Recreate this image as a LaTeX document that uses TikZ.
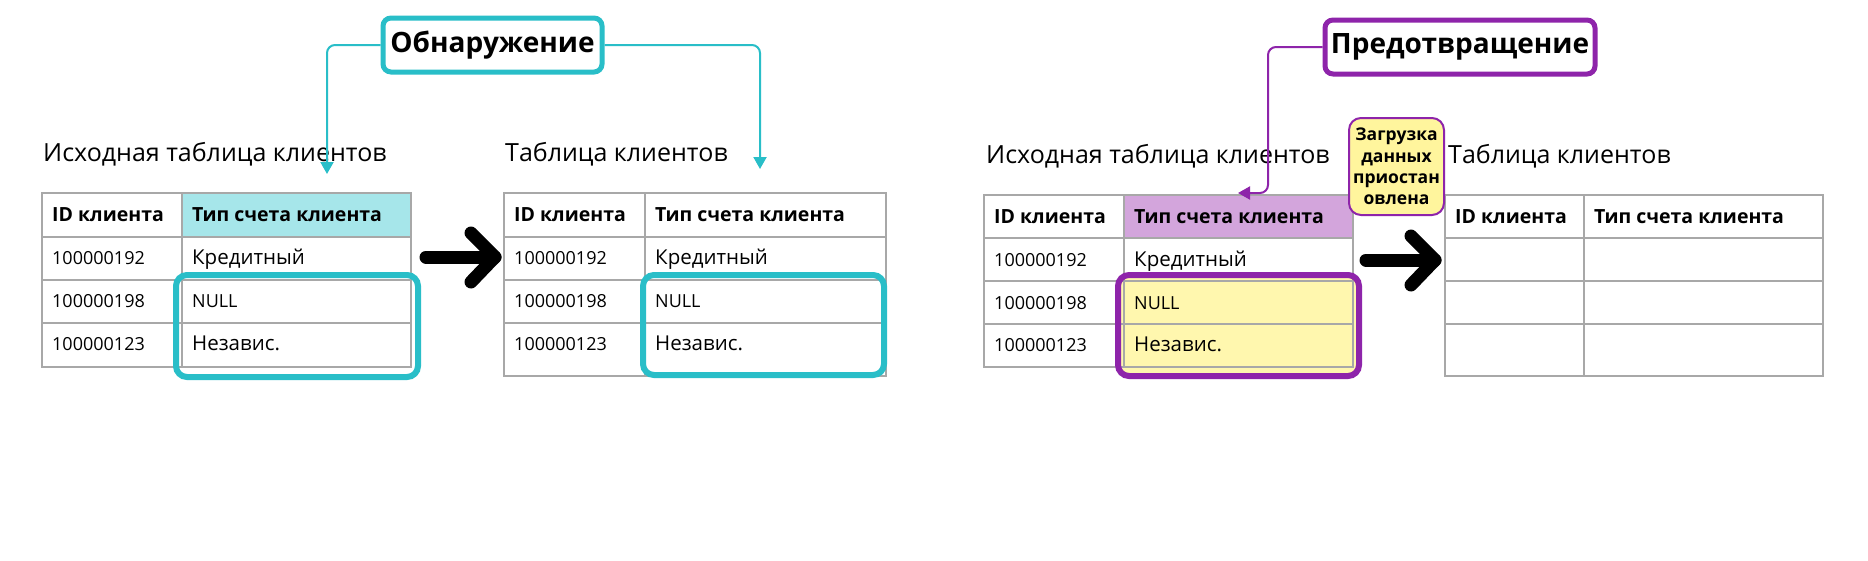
\documentclass[tikz,border=0pt]{standalone}
\usepackage{fontspec}
\setmainfont{Open Sans}
\usetikzlibrary{arrows.meta}
\definecolor{cy}{HTML}{29BEC8}
\definecolor{cyfill}{HTML}{A6E6EA}
\definecolor{pu}{HTML}{8E24AA}
\definecolor{pufill}{HTML}{D3A5DC}
\definecolor{yel}{HTML}{FFF7AE}
\definecolor{callfill}{HTML}{FFF59D}
\definecolor{gridc}{HTML}{A8A8A8}
\newcommand\fTitle{\fontsize{25}{30}\selectfont}
\newcommand\fHead{\fontsize{19.5}{23}\selectfont\bfseries}
\newcommand\fId{\fontsize{18}{22}\selectfont}
\newcommand\fWord{\fontsize{20.5}{24}\selectfont}
\newcommand\fBig{\fontsize{28}{34}\selectfont\bfseries}
\newcommand\fCall{\fontsize{17.5}{21.3}\selectfont\bfseries}
\tikzset{
  txt/.style={inner sep=0pt, anchor=base west},
  gridline/.style={draw=gridc, line width=1.6pt},
  hlcy/.style={draw=cy, line width=6pt, rounded corners=11pt},
  hlpu/.style={draw=pu, line width=6pt, rounded corners=11pt},
  bigbox/.style={rounded corners=8pt, line width=5pt, fill=white, inner sep=0pt},
  conn/.style={line width=2pt, rounded corners=8pt, -{Triangle[length=12pt,width=13pt]}},
  bigarrow/.style={line width=13pt, line cap=round, line join=round, draw=black},
}
\begin{document}
\begin{tikzpicture}[x=1pt,y=-1pt]
\useasboundingbox[fill=white] (0,0) rectangle (1868,560);

% ---------- Detection: source table ----------
\fill[cyfill] (182,193) rectangle (411,237);
\draw[gridline] (42,193) rectangle (411,367);
\draw[gridline] (182,193) -- (182,367);
\draw[gridline] (42,237) -- (411,237) (42,280) -- (411,280) (42,323) -- (411,323);
\node[txt] (ta) at (43,161) {\fTitle Исходная таблица клиентов};
\node[txt] (a00) at (52,221) {\fHead ID клиента};
\node[txt] (a01) at (192,221) {\fHead Тип счета клиента};
\node[txt] (a10) at (52,264) {\fId 100000192};
\node[txt] (a11) at (192,264) {\fWord Кредитный};
\node[txt] (a20) at (52,307) {\fId 100000198};
\node[txt] (a21) at (192,307) {\fId NULL};
\node[txt] (a30) at (52,350) {\fId 100000123};
\node[txt] (a31) at (192,350) {\fWord Независ.};
\draw[hlcy] (176,275) rectangle (418,377);

% ---------- Detection: target table ----------
\draw[gridline] (504,193) rectangle (886,376);
\draw[gridline] (645,193) -- (645,376);
\draw[gridline] (504,237) -- (886,237) (504,280) -- (886,280) (504,323) -- (886,323);
\node[txt] (tb) at (505,161) {\fTitle Таблица клиентов};
\node[txt] (b00) at (514,221) {\fHead ID клиента};
\node[txt] (b01) at (655,221) {\fHead Тип счета клиента};
\node[txt] (b10) at (514,264) {\fId 100000192};
\node[txt] (b11) at (655,264) {\fWord Кредитный};
\node[txt] (b20) at (514,307) {\fId 100000198};
\node[txt] (b21) at (655,307) {\fId NULL};
\node[txt] (b30) at (514,350) {\fId 100000123};
\node[txt] (b31) at (655,350) {\fWord Независ.};
\draw[hlcy] (643,275) rectangle (884,375);

% ---------- Detection label and connectors ----------
\node[bigbox, draw=cy, minimum width=219pt, minimum height=54pt] (obn) at (492.5,45) {\fBig Обнаружение};
\coordinate (c1) at (327,174);
\coordinate (c2) at (760,169);
\draw[conn, draw=cy] (obn.west) -| (c1);
\draw[conn, draw=cy] (obn.east) -| (c2);

% big arrow 1
\coordinate (a1s) at (426,257);
\coordinate (a1t) at (495,257);
\coordinate (a1u) at (471,233);
\coordinate (a1d) at (471,282);
\draw[bigarrow] (a1s) -- (a1t);
\draw[bigarrow] (a1u) -- (a1t) -- (a1d);

% ---------- Prevention: source table ----------
\fill[pufill] (1124,195) rectangle (1353,238);
\fill[yel, rounded corners=11pt] (1118,275) rectangle (1359,376);
\draw[gridline] (984,195) rectangle (1353,367);
\draw[gridline] (1124,195) -- (1124,367);
\draw[gridline] (984,238) -- (1353,238) (984,281) -- (1353,281) (984,324) -- (1353,324);
\node[txt] (tc) at (986,163) {\fTitle Исходная таблица клиентов};
\node[txt] (c00) at (994,223) {\fHead ID клиента};
\node[txt] (c01) at (1134,223) {\fHead Тип счета клиента};
\node[txt] (c10) at (994,266) {\fId 100000192};
\node[txt] (c11) at (1134,266) {\fWord Кредитный};
\node[txt] (c20) at (994,309) {\fId 100000198};
\node[txt] (c21) at (1134,309) {\fId NULL};
\node[txt] (c30) at (994,351) {\fId 100000123};
\node[txt] (c31) at (1134,351) {\fWord Независ.};
\draw[hlpu] (1118,275) rectangle (1359,376);

% ---------- Prevention: target table ----------
\draw[gridline] (1445,195) rectangle (1823,376);
\draw[gridline] (1584,195) -- (1584,376);
\draw[gridline] (1445,238) -- (1823,238) (1445,281) -- (1823,281) (1445,324) -- (1823,324);
\node[txt] (td) at (1448,163) {\fTitle Таблица клиентов};
\node[txt] (d00) at (1455,223) {\fHead ID клиента};
\node[txt] (d01) at (1594,223) {\fHead Тип счета клиента};

% ---------- Prevention label, connector, callout ----------
\node[bigbox, draw=pu, minimum width=270pt, minimum height=54pt] (pre) at (1460,47) {\fBig Предотвращение};
\coordinate (p1) at (1268,193);
\coordinate (p2) at (1238,193);
\draw[conn, draw=pu] (pre.west) -| (p1) -- (p2);

\node[draw=pu, line width=2pt, fill=callfill, rounded corners=12pt, minimum width=95pt, minimum height=97pt, inner sep=0pt, align=center, font=\fCall] (call) at (1396.5,166.5) {Загрузка\\ данных\\ приостан\\ овлена};

% big arrow 2
\coordinate (a2s) at (1366,260);
\coordinate (a2t) at (1435,260);
\coordinate (a2u) at (1411,236);
\coordinate (a2d) at (1411,285);
\draw[bigarrow] (a2s) -- (a2t);
\draw[bigarrow] (a2u) -- (a2t) -- (a2d);
\end{tikzpicture}
\end{document}
